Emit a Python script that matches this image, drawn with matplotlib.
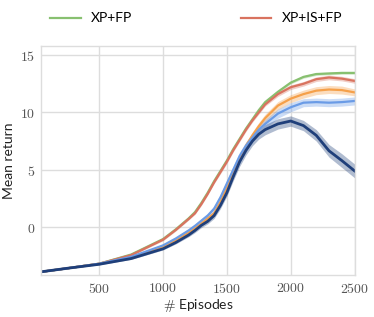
import numpy as np
import matplotlib
matplotlib.use("Agg")
import matplotlib.pyplot as plt
from matplotlib.ticker import FuncFormatter

# -------------------------
# Data
# -------------------------
episodes = [50, 250, 500, 750, 1000, 1100, 1200, 1250, 1300, 1350, 1400,
            1450, 1500, 1550, 1600, 1650, 1700, 1750, 1800, 1900, 2000,
            2100, 2200, 2300, 2400, 2500]

xp_fp = [-3.9, -3.6, -3.2, -2.4, -1.05, -0.2, 0.75, 1.3, 2.1, 3.0, 4.0,
         4.9, 5.8, 6.8, 7.7, 8.6, 9.4, 10.2, 10.9, 11.8, 12.6,
         13.1, 13.35, 13.4, 13.45, 13.45]
xp_is_fp = [-3.9, -3.6, -3.2, -2.45, -1.1, -0.25, 0.7, 1.2, 2.0, 2.9, 3.9,
            4.8, 5.7, 6.7, 7.6, 8.5, 9.3, 10.0, 10.7, 11.6, 12.2,
            12.5, 12.9, 13.05, 12.95, 12.75]
orange_run = [-3.9, -3.6, -3.2, -2.7, -1.75, -1.2, -0.5, -0.1, 0.3, 0.75, 1.2,
              2.2, 3.4, 4.7, 6.0, 7.1, 8.0, 8.8, 9.5, 10.6, 11.2,
              11.6, 11.9, 12.0, 11.95, 11.75]
light_blue_run = [-3.9, -3.6, -3.2, -2.6, -1.6, -1.0, -0.3, 0.1, 0.55, 1.0, 1.6,
                  2.6, 3.8, 5.0, 6.2, 7.1, 7.8, 8.5, 9.0, 9.9, 10.45,
                  10.85, 10.9, 10.85, 10.9, 11.0]
dark_blue_run = [-3.9, -3.6, -3.25, -2.75, -1.9, -1.35, -0.7, -0.3, 0.15, 0.5, 1.0,
                 1.9, 3.0, 4.4, 5.7, 6.7, 7.5, 8.1, 8.5, 9.0, 9.25,
                 8.85, 8.0, 6.65, 5.8, 4.9]

# spread of the shaded bands
xp_fp_sd = [0.05, 0.05, 0.05, 0.08, 0.1, 0.1, 0.1, 0.1, 0.12, 0.12, 0.12,
            0.12, 0.12, 0.12, 0.12, 0.12, 0.12, 0.12, 0.12, 0.12, 0.12,
            0.12, 0.12, 0.12, 0.12, 0.12]
xp_is_fp_sd = [0.05, 0.05, 0.05, 0.08, 0.1, 0.1, 0.1, 0.1, 0.12, 0.12, 0.12,
               0.15, 0.15, 0.15, 0.15, 0.15, 0.15, 0.15, 0.15, 0.2, 0.2,
               0.2, 0.2, 0.2, 0.2, 0.2]
orange_sd = [0.05, 0.05, 0.05, 0.08, 0.1, 0.1, 0.12, 0.12, 0.15, 0.18, 0.2,
             0.22, 0.25, 0.28, 0.3, 0.3, 0.3, 0.32, 0.35, 0.35, 0.35,
             0.35, 0.35, 0.35, 0.35, 0.3]
light_blue_sd = [0.05, 0.05, 0.05, 0.08, 0.1, 0.12, 0.15, 0.18, 0.2, 0.22, 0.25,
                 0.28, 0.3, 0.35, 0.35, 0.35, 0.35, 0.38, 0.4, 0.4, 0.4,
                 0.35, 0.35, 0.35, 0.35, 0.35]
dark_blue_sd = [0.05, 0.05, 0.05, 0.08, 0.1, 0.12, 0.15, 0.18, 0.2, 0.22, 0.25,
                0.28, 0.3, 0.35, 0.4, 0.4, 0.4, 0.42, 0.45, 0.45, 0.45,
                0.45, 0.5, 0.55, 0.6, 0.6]

series = [
    ("XP+FP", xp_fp, xp_fp_sd, "#88c070", 1.6),
    ("XP+IS+FP", xp_is_fp, xp_is_fp_sd, "#d9735f", 1.6),
    (None, orange_run, orange_sd, "#f5a04a", 1.6),
    (None, light_blue_run, light_blue_sd, "#6a9be6", 1.6),
    (None, dark_blue_run, dark_blue_sd, "#1f3f7a", 2.0),
]

# -------------------------
# Plot
# -------------------------
plt.rcParams["mathtext.fontset"] = "cm"
plt.rcParams["font.family"] = ["Lato", "DejaVu Sans"]

fig = plt.figure(figsize=(3.74, 3.17), dpi=100)
ax = fig.add_axes([0.110, 0.132, 0.838, 0.723])

x = np.array(episodes)
handles = []
for name, mean, sd, color, lw in series:
    mean = np.array(mean)
    sd = np.array(sd)
    ax.fill_between(x, mean - sd, mean + sd, color=color, alpha=0.35, lw=0)
    line, = ax.plot(x, mean, color=color, lw=lw)
    if name:
        handles.append((line, name))

ax.set_xlim(45, 2500)
ax.set_ylim(-4.2, 15.8)
ax.set_xticks([500, 1000, 1500, 2000, 2500])
ax.set_yticks([0, 5, 10, 15])
ax.xaxis.set_major_formatter(FuncFormatter(lambda v, p: r"$%d$" % v))
ax.yaxis.set_major_formatter(FuncFormatter(lambda v, p: r"$%d$" % v))
ax.tick_params(length=0, labelsize=10, colors="#555555", pad=4)

ax.grid(True, color="#dddddd", lw=1.0)
ax.set_axisbelow(True)
for sp in ax.spines.values():
    sp.set_color("#dddddd")
    sp.set_linewidth(1.0)

ax.set_xlabel(r"$\#$ Episodes", fontsize=10, color="#222222", labelpad=2)
ax.set_ylabel("Mean return", fontsize=10, color="#222222", labelpad=4)

fig.legend([h for h, _ in handles], [n for _, n in handles],
           loc="upper center", bbox_to_anchor=(0.525, 1.0), ncol=2,
           frameon=False, fontsize=10, columnspacing=7.8,
           handlelength=2.2, handletextpad=0.75)

fig.savefig("out.png", dpi=100)
